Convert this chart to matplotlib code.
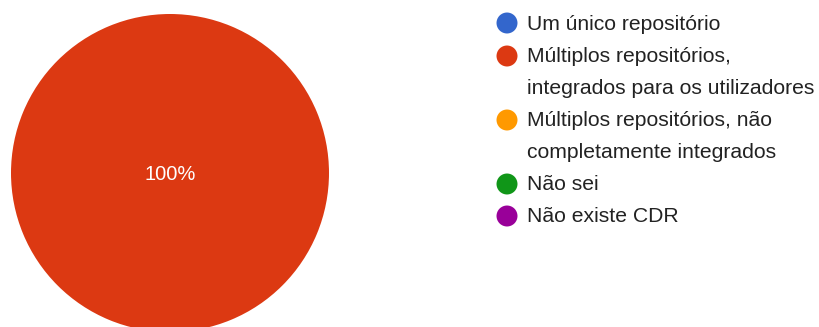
import matplotlib.pyplot as plt

categorias = [
    "Um único repositório",
    "Múltiplos repositórios,\nintegrados para os utilizadores",
    "Múltiplos repositórios, não\ncompletamente integrados",
    "Não sei",
    "Não existe CDR",
]
percentagens = [0, 100, 0, 0, 0]
cores = ["#3366CC", "#DC3912", "#FF9900", "#109618", "#990099"]

plt.rcParams['font.family'] = ['Liberation Sans', 'DejaVu Sans']

fig = plt.figure(figsize=(8.19, 3.27), dpi=100)
ax = fig.add_axes([0, 0, 1, 1])
ax.axis('off')

# só desenha as fatias com valor > 0
vals = [v for v in percentagens if v > 0]
cs = [c for v, c in zip(percentagens, cores) if v > 0]
wedges, texts = ax.pie(vals, colors=cs, center=(170, 154), radius=159,
                       startangle=90, counterclock=False,
                       wedgeprops={'linewidth': 0})
for w, v in zip(wedges, vals):
    ax.text(170, 153, f"{v:.0f}%", color="white", fontsize=14.5,
            ha="center", va="center")
ax.set_xlim(0, 819)
ax.set_ylim(0, 327)
ax.set_aspect('equal')

# legenda: um círculo por categoria, texto em linhas de 31 px
ys = [304, 271, 207, 143, 111]
for nome, cor, y in zip(categorias, cores, ys):
    ax.scatter([507], [y], s=228, color=cor, edgecolors='none', clip_on=False)
    for i, linha in enumerate(nome.split("\n")):
        ax.text(527, y - 1 - 32 * i, linha, fontsize=15.2, color="#222222",
                ha="left", va="center")

fig.savefig("out.png", dpi=100)
